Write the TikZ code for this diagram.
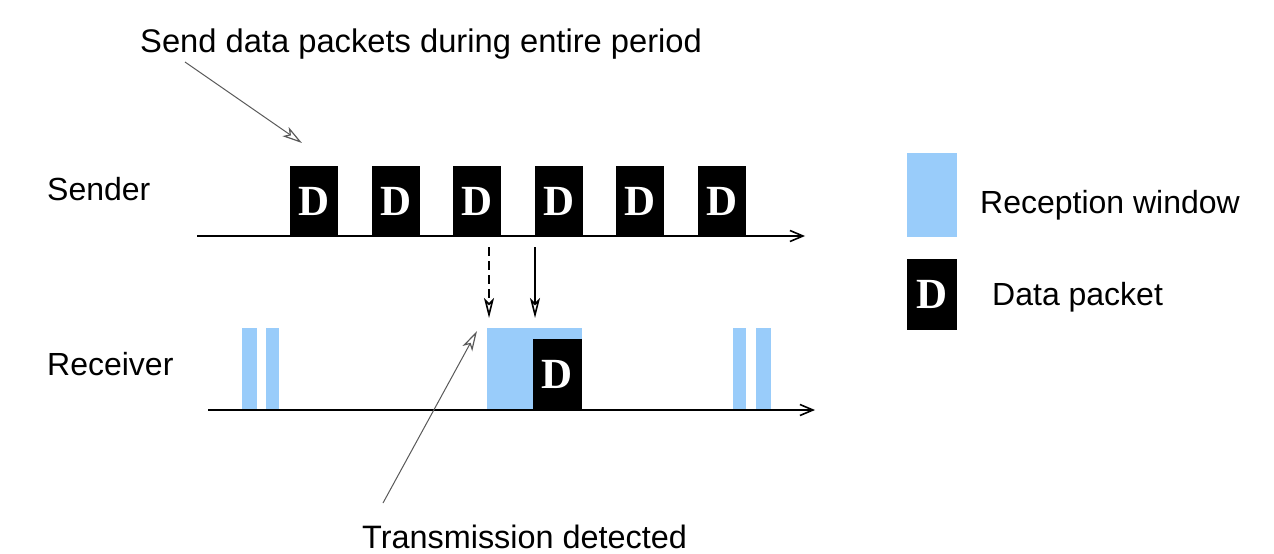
\documentclass[tikz,border=0pt]{standalone}
\usepackage{fontspec}
\setmainfont{Liberation Sans}
\newfontfamily\dfont{Liberation Serif}
\usetikzlibrary{arrows.meta}
\definecolor{rxblue}{RGB}{153,204,250}
\tikzset{
  lbl/.style={anchor=base west, inner sep=0pt, font=\fontsize{32}{38}\selectfont},
  pkt/.style={fill=black, text=white, inner sep=0pt, minimum width=48pt, minimum height=70pt,
              font=\dfont\bfseries\fontsize{43}{43}\selectfont},
  rxwin/.style={fill=rxblue, draw=none},
  axis/.style={line width=2pt, -{Straight Barb[length=13pt,width=11pt,line width=1.6pt]}},
  sig/.style={line width=1.6pt, -{Stealth[open,length=20pt,width=10pt,inset=5pt,line width=1.6pt]}},
  note/.style={line width=1pt, draw=black!65, -{Stealth[open,length=20pt,width=11pt,inset=5pt,line width=1.2pt]}},
}
\begin{document}
\begin{tikzpicture}[x=1pt,y=-1pt]
\useasboundingbox (0,0) rectangle (1274,554);
% labels
\node[lbl, font=\fontsize{32.7}{38}\selectfont] (title) at (140,52) {Send data packets during entire period};
\node[lbl] (sender) at (47,200) {Sender};
\node[lbl] (receiver) at (47,375) {Receiver};
\node[lbl, font=\fontsize{32.4}{38}\selectfont] (detected) at (362,548) {Transmission detected};
% reception windows
\fill[rxwin] (242,328) rectangle (257,410);
\fill[rxwin] (266,328) rectangle (279,410);
\fill[rxwin] (487,328) rectangle (582,410);
\fill[rxwin] (733,328) rectangle (746,410);
\fill[rxwin] (756,328) rectangle (771,410);
% sender packets
\node[pkt] (s1) at (314,201) {D};
\node[pkt] (s2) at (395.6,201) {D};
\node[pkt] (s3) at (477.2,201) {D};
\node[pkt] (s4) at (558.8,201) {D};
\node[pkt] (s5) at (640.4,201) {D};
\node[pkt] (s6) at (722,201) {D};
% received packet
\node[pkt, minimum width=49pt, minimum height=71pt] (r1) at (557.5,374.5) {D};
% axes
\coordinate (sa0) at (197,236);
\coordinate (sa1) at (805,236);
\coordinate (ra0) at (208,410);
\coordinate (ra1) at (815,410);
\draw[axis] (sa0) -- (sa1);
\draw[axis] (ra0) -- (ra1);
% transmission arrows
\coordinate (d0) at (489,247);
\coordinate (d1) at (489,318);
\coordinate (t0) at (535,247);
\coordinate (t1) at (535,318);
\draw[sig, dash pattern=on 9pt off 5pt] (d0) -- (d1);
\draw[sig] (t0) -- (t1);
% annotation arrows
\coordinate (n1a) at (185,62);
\coordinate (n1b) at (302,143);
\coordinate (n2a) at (383,503);
\coordinate (n2b) at (477,331);
\draw[note] (n1a) -- (n1b);
\draw[note] (n2a) -- (n2b);
% legend
\fill[rxwin] (907,153) rectangle (957,237);
\node[pkt, minimum width=50pt, minimum height=71pt] (lgd) at (932,294.5) {D};
\node[lbl] (lrw) at (980,213) {Reception window};
\node[lbl] (ldp) at (992,305) {Data packet};
\end{tikzpicture}
\end{document}
